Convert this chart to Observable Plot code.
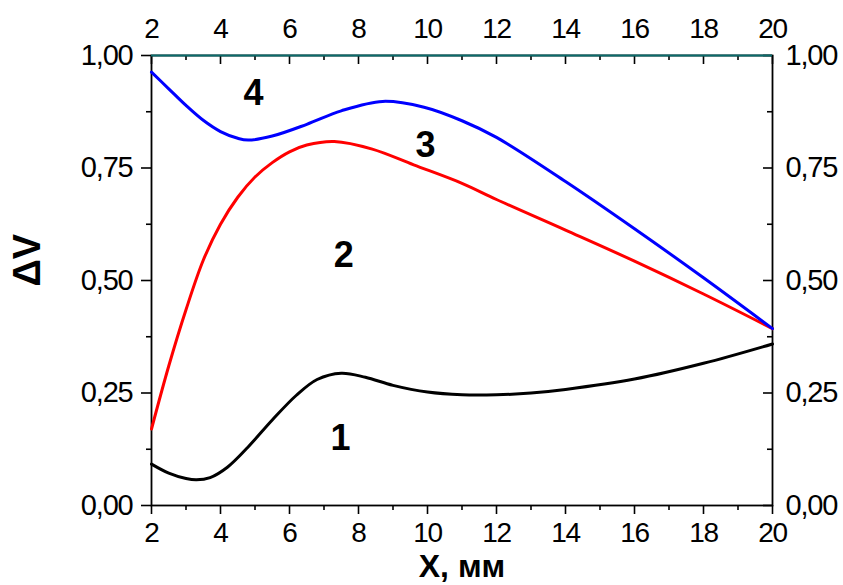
<!DOCTYPE html>
<html>
<head>
<meta charset="utf-8">
<script src="https://cdn.jsdelivr.net/npm/d3@7"></script>
<script src="https://cdn.jsdelivr.net/npm/@observablehq/plot@0.6"></script>
<style>
  html, body { margin: 0; padding: 0; background: #fff; }
  #chart svg { font-family: "Liberation Sans", Arial, sans-serif; }
  g[aria-label$="tick label"] text { letter-spacing: -1.2px; }
</style>
</head>
<body>
<div id="chart"></div>
<script>
// Tick values
const xMajor = [2, 4, 6, 8, 10, 12, 14, 16, 18, 20];
const xMinor = [3, 5, 7, 9, 11, 13, 15, 17, 19];
const yMajor = [0, 0.25, 0.5, 0.75, 1];
const yMinor = [0.125, 0.375, 0.625, 0.875];

// Curve 1 (black)
const c1X = [2, 2.5, 3, 3.3, 3.7, 4.2, 4.8, 5.5, 6.2, 6.8, 7.5, 8.2, 9, 10, 11, 12, 13, 14, 16, 18, 20];
const c1Y = [0.092, 0.072, 0.06, 0.057, 0.062, 0.085, 0.13, 0.19, 0.245, 0.28, 0.294, 0.285, 0.267, 0.252, 0.246, 0.246, 0.25, 0.258, 0.281, 0.316, 0.359];
// Curve 2 (red)
const c2X = [2, 2.5, 3, 3.5, 4, 4.5, 5, 5.5, 6, 6.5, 7.3, 8.4, 9.6, 11, 12, 14, 16, 18, 20];
const c2Y = [0.17, 0.31, 0.435, 0.545, 0.625, 0.685, 0.73, 0.762, 0.786, 0.801, 0.809, 0.792, 0.757, 0.716, 0.68, 0.612, 0.543, 0.47, 0.393];
// Curve 4 (blue)
const c4X = [2, 2.5, 3, 3.5, 4, 4.5, 4.8, 5.5, 6.5, 7.5, 8.7, 9.9, 11, 12, 14, 16, 18, 20];
const c4Y = [0.963, 0.926, 0.889, 0.856, 0.831, 0.816, 0.812, 0.821, 0.847, 0.877, 0.898, 0.885, 0.855, 0.818, 0.72, 0.615, 0.506, 0.393];

// Curve number labels
const labelText = ["1", "2", "3", "4"];
const labelX = [7.48, 7.57, 9.94, 4.96];
const labelY = [0.148, 0.555, 0.80, 0.915];

const toRows = (xs, ys) => xs.map((x, i) => ({x, y: ys[i]}));
const curves = [
  {rows: toRows(c1X, c1Y), color: "#000000"},
  {rows: toRows(c2X, c2Y), color: "#ff0000"},
  {rows: toRows(c4X, c4Y), color: "#0000ff"}
];
const labels = labelText.map((t, i) => ({t, x: labelX[i], y: labelY[i]}));
const fmt = d => d.toFixed(2).replace(".", ",");

const plot = Plot.plot({
  width: 843,
  height: 585,
  marginLeft: 151,
  marginRight: 71,
  marginTop: 55,
  marginBottom: 80,
  x: {domain: [2, 20]},
  y: {domain: [0, 1]},
  style: {fontFamily: '"Liberation Sans", Arial, sans-serif', background: "#fff", color: "#000"},
  marks: [
    // Bottom axis
    Plot.axisX(xMajor, {anchor: "bottom", tickSize: 9, tickPadding: 8, fontSize: 28, tickFormat: d => String(d), label: null, strokeWidth: 1.6}),
    Plot.axisX(xMinor, {anchor: "bottom", tickSize: 5, tickFormat: () => "", label: null, strokeWidth: 1.6}),
    // Top axis labels (ticks drawn inward below)
    Plot.axisX(xMajor, {anchor: "top", tickSize: 0, tickPadding: 18, fontSize: 28, tickFormat: d => String(d), label: null}),
    Plot.ruleX(xMajor, {x: d => d, y1: 1, y2: 1, insetBottom: -9, strokeWidth: 1.6}),
    Plot.ruleX(xMinor, {x: d => d, y1: 1, y2: 1, insetBottom: -5, strokeWidth: 1.6}),
    // Left axis
    Plot.axisY(yMajor, {anchor: "left", tickSize: 10, tickPadding: 9, fontSize: 29, tickFormat: fmt, label: null, strokeWidth: 1.6}),
    Plot.axisY(yMinor, {anchor: "left", tickSize: 5, tickFormat: () => "", label: null, strokeWidth: 1.6}),
    // Right axis labels (ticks drawn inward below)
    Plot.axisY(yMajor, {anchor: "right", tickSize: 0, tickPadding: 13, fontSize: 29, tickFormat: fmt, label: null}),
    Plot.ruleY(yMajor, {y: d => d, x1: 20, x2: 20, insetLeft: -9, strokeWidth: 1.6}),
    Plot.ruleY(yMinor, {y: d => d, x1: 20, x2: 20, insetLeft: -5, strokeWidth: 1.6}),
    // Frame
    Plot.frame({stroke: "#000", strokeWidth: 1.8}),
    Plot.ruleY([1], {stroke: "#0b6b6b", strokeWidth: 1.8}),
    // Curves
    ...curves.map(c => Plot.line(c.rows, {x: "x", y: "y", stroke: c.color, strokeWidth: 3, curve: "catmull-rom"})),
    // Curve numbers
    Plot.text(labels, {x: "x", y: "y", text: "t", fontSize: 36, fontWeight: "bold", fill: "#000"}),
    // Axis titles
    Plot.text(["X, мм"], {frameAnchor: "bottom", lineAnchor: "top", dy: 49, fontSize: 32, fontWeight: "bold", text: d => d}),
    Plot.text(["ΔV"], {frameAnchor: "left", rotate: -90, dx: -124, dy: 6, fontSize: 38, fontWeight: "bold", text: d => d})
  ]
});
document.getElementById("chart").appendChild(plot);
</script>
</body>
</html>
